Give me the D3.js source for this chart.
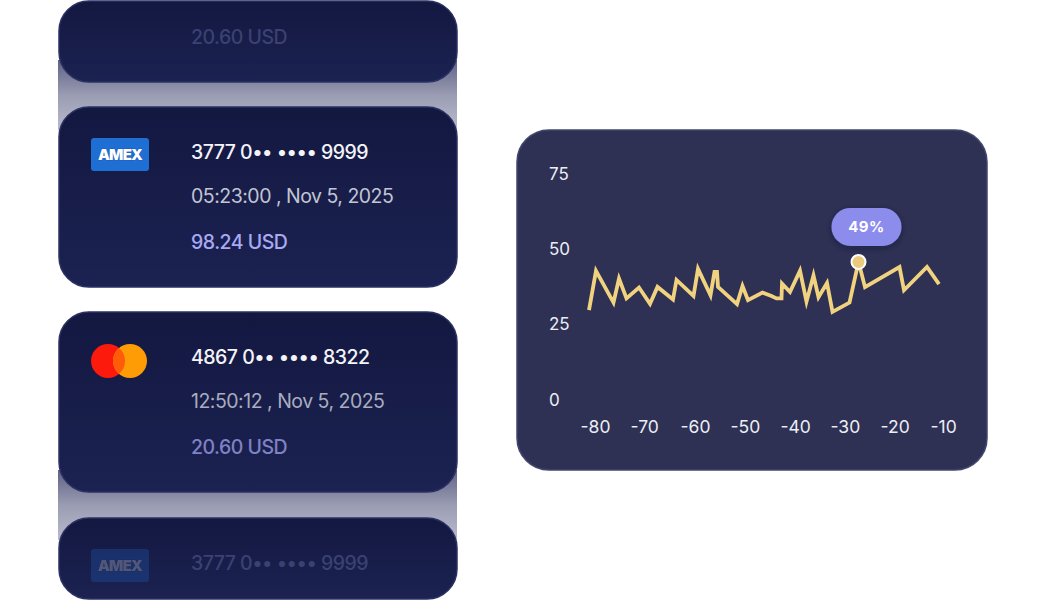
<!DOCTYPE html>
<html>
<head>
<meta charset="utf-8">
<script src="https://cdn.jsdelivr.net/npm/d3@7"></script>
<style>
  html, body { margin: 0; padding: 0; background: #ffffff; }
  svg { display: block; font-family: Inter, "Noto Sans", sans-serif; }
</style>
</head>
<body>
<svg id="chart" width="1046" height="600"></svg>
<script>
// Chart data
const xTicks = [-80, -70, -60, -50, -40, -30, -20, -10];
const yTicks = [0, 25, 50, 75];
const seriesX = [-80, -78.6, -75.1, -74.0, -72.5, -70.0, -67.8, -66.3, -63.2, -62.5,
  -59.1, -58.2, -55.7, -54.9, -54.4, -54.2, -50.4, -49.3, -48.2, -45.3,
  -43.5, -42.5, -41.5, -41.4, -39.8, -37.8, -36.5, -35.1, -34.1, -32.4,
  -31.3, -27.9, -26.1, -24.8, -17.9, -17.0, -12.4, -10];
const seriesY = [29.5, 42.5, 32.0, 40.0, 33.4, 37.0, 31.6, 37.2, 33.0, 39.5,
  34.2, 43.2, 34.4, 42.2, 42.2, 37.2, 31.5, 37.5, 32.8, 35.3,
  34.2, 33.4, 33.4, 38.3, 35.5, 42.6, 32.3, 41.0, 33.8, 38.5,
  28.9, 32.0, 45.5, 37.1, 43.8, 36.1, 43.8, 38.1];
const highlightIndex = 32;
const highlightLabel = '49%';

// Transaction cards (the first and last are cut short and faded)
const cardBrands = ['mastercard', 'amex', 'mastercard', 'amex'];
const cardNumbers = ['4867 0•• •••• 8322', '3777 0•• •••• 9999', '4867 0•• •••• 8322', '3777 0•• •••• 9999'];
const cardTimes = ['12:50:12 , Nov 5, 2025', '05:23:00 , Nov 5, 2025', '12:50:12 , Nov 5, 2025', '05:23:00 , Nov 5, 2025'];
const cardAmounts = ['20.60 USD', '98.24 USD', '20.60 USD', '98.24 USD'];
const cardFaded = [true, false, false, true];

const svg = d3.select('#chart');
const defs = svg.append('defs');

// gradients
const cardGrad = defs.append('linearGradient').attr('id', 'cardGrad')
  .attr('x1', 0).attr('y1', 0).attr('x2', 0).attr('y2', 1);
cardGrad.append('stop').attr('offset', 0).attr('stop-color', '#131841');
cardGrad.append('stop').attr('offset', 1).attr('stop-color', '#1c2251');

const gapGrad = defs.append('linearGradient').attr('id', 'gapGrad')
  .attr('x1', 0).attr('y1', 0).attr('x2', 0).attr('y2', 1);
gapGrad.append('stop').attr('offset', 0).attr('stop-color', '#5e6184');
gapGrad.append('stop').attr('offset', 0.5).attr('stop-color', '#9a9cb3');
gapGrad.append('stop').attr('offset', 1).attr('stop-color', '#b9bacb');

const gridGrad = defs.append('linearGradient').attr('id', 'gridGrad')
  .attr('gradientUnits', 'userSpaceOnUse')
  .attr('x1', 0).attr('y1', 190).attr('x2', 0).attr('y2', 402);
gridGrad.append('stop').attr('offset', 0).attr('stop-color', '#2e3154');
gridGrad.append('stop').attr('offset', 0.3).attr('stop-color', '#42466c');
gridGrad.append('stop').attr('offset', 0.7).attr('stop-color', '#42466c');
gridGrad.append('stop').attr('offset', 1).attr('stop-color', '#2e3154');

const shadow = defs.append('filter').attr('id', 'pillShadow')
  .attr('x', '-30%').attr('y', '-30%').attr('width', '160%').attr('height', '180%');
shadow.append('feDropShadow').attr('dx', 0).attr('dy', 2).attr('stdDeviation', 3)
  .attr('flood-color', '#10122a').attr('flood-opacity', 0.45);

// ---- left column: card list ----
const cardX = 59, cardW = 398, cardH = 180;
const cardTops = [-98, 107, 312, 518];
const rowOffsets = [45, 89, 135];
const viewTop = 1, viewBottom = 599;

// grey fill showing through the gaps between faded cards
[[60, 130], [470, 540]].forEach(([y0, y1]) => {
  svg.append('rect')
    .attr('x', cardX - 1).attr('y', y0).attr('width', cardW + 1).attr('height', y1 - y0)
    .attr('fill', 'url(#gapGrad)');
});

const cards = svg.append('g').selectAll('g')
  .data(cardTops.map((top, i) => ({
    top, brand: cardBrands[i], number: cardNumbers[i], time: cardTimes[i],
    amount: cardAmounts[i], faded: cardFaded[i], i
  })))
  .join('g')
  .attr('transform', d => `translate(${cardX},${d.top})`);

// the cards are cut to the visible band, keeping their rounded corners
cards.append('rect')
  .attr('y', d => Math.max(0, viewTop - d.top))
  .attr('width', cardW)
  .attr('height', d => Math.min(cardH, viewBottom - d.top) - Math.max(0, viewTop - d.top))
  .attr('rx', 30)
  .attr('fill', 'url(#cardGrad)')
  .attr('stroke', '#2b3163').attr('stroke-width', 1.5);

// only rows that sit fully inside the view are drawn
const inView = (d, off) => d.top + off > 15 && d.top + off < 585;

cards.each(function (d) {
  const g = d3.select(this);
  const f = d.faded;
  if (inView(d, 49)) {
    if (d.brand === 'amex') {
      const logo = g.append('g').attr('transform', 'translate(32,31)')
        .attr('opacity', f ? 0.25 : 1);
      logo.append('rect').attr('width', 58).attr('height', 33).attr('rx', 3)
        .attr('fill', '#1f6ed3');
      logo.append('text').attr('x', 29).attr('y', 17)
        .attr('dy', '0.36em').attr('text-anchor', 'middle')
        .attr('font-size', 15).attr('font-weight', 900)
        .attr('letter-spacing', -0.8)
        .attr('fill', '#ffffff').attr('stroke', '#1a4fa8').attr('stroke-width', 0.7)
        .attr('paint-order', 'stroke')
        .text('AMEX');
    } else {
      const logo = g.append('g').attr('transform', 'translate(49,49)')
        .attr('opacity', f ? 0.25 : 1);
      logo.append('circle').attr('cx', 0).attr('r', 17).attr('fill', '#fb1a0b');
      logo.append('circle').attr('cx', 22).attr('r', 17).attr('fill', '#fd9c05');
      logo.append('path')
        .attr('d', 'M11,-13 A17,17 0 0,1 11,13 A17,17 0 0,1 11,-13 Z')
        .attr('fill', '#ff5c0a');
    }
  }
  const rows = [
    { text: d.number, weight: 500, color: '#f3f3f8' },
    { text: d.time, weight: 400, color: d.i === 1 ? '#c2c5d4' : '#a9adbf' },
    { text: d.amount, weight: 500, color: d.i === 1 ? '#a9a9f4' : '#7f82c4' }
  ];
  rows.forEach((r, k) => {
    if (!inView(d, rowOffsets[k])) return;
    g.append('text').attr('x', 132).attr('y', rowOffsets[k]).attr('dy', '0.36em')
      .attr('font-size', 19.5).attr('font-weight', r.weight)
      .attr('letter-spacing', -0.5)
      .attr('fill', f ? '#3b4171' : r.color).text(r.text);
  });
});

// ---- right: line chart card ----
svg.append('rect')
  .attr('x', 517).attr('y', 130).attr('width', 470).attr('height', 340)
  .attr('rx', 32)
  .attr('fill', '#2e3154')
  .attr('stroke', '#42466d').attr('stroke-width', 1.5);

const x = d3.scaleLinear().domain([-80, -10]).range([589, 939]);
const y = d3.scaleLinear().domain([0, 75]).range([399, 173]);

// vertical grid lines
svg.append('g')
  .attr('transform', 'translate(0,402)')
  .call(d3.axisBottom(x).tickValues(xTicks).tickSize(-212).tickFormat(''))
  .call(g => g.select('.domain').remove())
  .call(g => g.selectAll('line').attr('stroke', 'url(#gridGrad)').attr('stroke-width', 2));

// x axis labels
svg.append('g')
  .attr('transform', 'translate(0,427)')
  .call(d3.axisBottom(x).tickValues(xTicks).tickSize(0).tickPadding(0)
    .tickFormat(d => String(d)))
  .call(g => g.select('.domain').remove())
  .call(g => g.selectAll('text')
    .attr('y', 0).attr('dy', '0.36em')
    .attr('x', -9)
    .attr('text-anchor', 'start')
    .attr('font-size', 17.5)
    .attr('font-family', 'Inter, "Noto Sans", sans-serif')
    .attr('fill', '#eceef5'));

// y axis labels
svg.append('g')
  .attr('transform', 'translate(549,0)')
  .call(d3.axisLeft(y).tickValues(yTicks).tickSize(0).tickPadding(0))
  .call(g => g.select('.domain').remove())
  .call(g => g.selectAll('text')
    .attr('x', 0).attr('dy', '0.36em')
    .attr('text-anchor', 'start')
    .attr('font-size', 17)
    .attr('font-family', 'Inter, "Noto Sans", sans-serif')
    .attr('fill', '#eceef5'));

// the series line
const points = seriesX.map((v, i) => [v, seriesY[i]]);
const line = d3.line().x(d => x(d[0])).y(d => y(d[1]));

svg.append('path')
  .datum(points)
  .attr('d', line)
  .attr('fill', 'none')
  .attr('stroke', '#f1d27e')
  .attr('stroke-width', 3.8)
  .attr('stroke-linejoin', 'miter')
  .attr('stroke-miterlimit', 10);

// highlighted point and its label
const hp = points[highlightIndex];
const hx = x(hp[0]), hy = y(hp[1]);

svg.append('circle')
  .attr('cx', hx).attr('cy', hy).attr('r', 7)
  .attr('fill', '#eacb7d')
  .attr('stroke', '#ffffff').attr('stroke-width', 2);

const pill = svg.append('g').attr('transform', `translate(${hx + 8},${hy - 35})`);
pill.append('rect')
  .attr('x', -35).attr('y', -19).attr('width', 70).attr('height', 38).attr('rx', 19)
  .attr('fill', '#8c8ced')
  .attr('filter', 'url(#pillShadow)');
pill.append('text')
  .attr('text-anchor', 'middle').attr('dy', '0.36em')
  .attr('font-size', 15).attr('font-weight', 700)
  .attr('letter-spacing', 0.5)
  .attr('fill', '#ffffff')
  .text(highlightLabel);
</script>
</body>
</html>
